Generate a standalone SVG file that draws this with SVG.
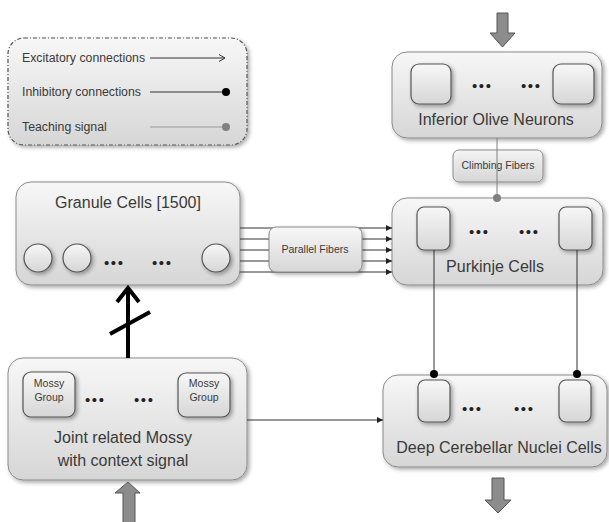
<svg xmlns="http://www.w3.org/2000/svg" width="609" height="522" viewBox="0 0 609 522">
<defs>
<linearGradient id="g" x1="0" y1="0" x2="0" y2="1">
<stop offset="0" stop-color="#f7f7f7"/>
<stop offset="1" stop-color="#d6d6d6"/>
</linearGradient>
<filter id="sh" x="-10%" y="-10%" width="130%" height="130%">
<feGaussianBlur in="SourceAlpha" stdDeviation="2"/>
<feOffset dx="1.5" dy="2" result="b"/>
<feComponentTransfer><feFuncA type="linear" slope="0.35"/></feComponentTransfer>
<feMerge><feMergeNode/><feMergeNode in="SourceGraphic"/></feMerge>
</filter>
<marker id="ah" viewBox="0 0 6 6" refX="6" refY="3" markerWidth="6" markerHeight="6" markerUnits="userSpaceOnUse" orient="auto">
<path d="M0,0 L6,3 L0,6 z" fill="#222"/>
</marker>
<marker id="dotB" viewBox="0 0 8 8" refX="4" refY="4" markerWidth="8" markerHeight="8" markerUnits="userSpaceOnUse">
<circle cx="4" cy="4" r="4" fill="#000"/>
</marker>
<marker id="dotG" viewBox="0 0 8 8" refX="4" refY="4" markerWidth="8" markerHeight="8" markerUnits="userSpaceOnUse">
<circle cx="4" cy="4" r="4" fill="#808080"/>
</marker>
</defs>
<style>
.box{fill:url(#g);stroke:#8a8a8a;stroke-width:1;filter:url(#sh)}
.in{fill:url(#g);stroke:#555;stroke-width:1.2;filter:url(#sh)}
.t{font-family:"Liberation Sans",Arial,sans-serif;fill:#3a3a3a;text-anchor:middle}
.big{font-size:16px}
.sm{font-size:10.5px}
.lg{font-family:"Liberation Sans",Arial,sans-serif;fill:#3a3a3a;font-size:12.3px}
.dots{font-family:"Liberation Sans",Arial,sans-serif;fill:#222;font-size:15px;letter-spacing:1.6px}
.ln{stroke:#333;stroke-width:1;fill:none}
.blk{fill:#8c8c8c;stroke:#555;stroke-width:1}
</style>

<g id="legend">
<rect x="8" y="38" width="239" height="107" rx="16" fill="url(#g)" stroke="#555" stroke-width="1.2" stroke-dasharray="4 2 1 2" filter="url(#sh)"/>
<text class="lg" x="22" y="62">Excitatory connections</text>
<text class="lg" x="22" y="96">Inhibitory connections</text>
<text class="lg" x="22" y="131">Teaching signal</text>
<line x1="150" y1="58" x2="225" y2="58" stroke="#333" stroke-width="1"/>
<path d="M219,54.5 L225,58 L219,61.5" fill="none" stroke="#333" stroke-width="1"/>
<line x1="150" y1="92" x2="226" y2="92" stroke="#333" stroke-width="1" marker-end="url(#dotB)"/>
<line x1="150" y1="127" x2="226" y2="127" stroke="#999" stroke-width="1" marker-end="url(#dotG)"/>
</g>

<g id="inferior-olive">
<rect class="box" x="392" y="52" width="210" height="86" rx="15"/>
<rect class="in" x="411" y="64" width="40" height="40" rx="8"/>
<rect class="in" x="553" y="64" width="41" height="40" rx="8"/>
<text class="dots" x="472" y="91">•••</text>
<text class="dots" x="521" y="91">•••</text>
<text class="t big" x="496" y="125">Inferior Olive Neurons</text>
</g>

<g id="climbing-fibers">
<rect class="box" x="453" y="150" width="90" height="32" rx="6" fill-opacity="0.85"/>
<text class="t sm" x="498" y="169">Climbing Fibers</text>
</g>

<g id="granule-cells">
<rect class="box" x="16" y="182" width="224" height="103" rx="15"/>
<text class="t big" x="128" y="208">Granule Cells [1500]</text>
<circle class="in" cx="38" cy="258" r="14"/>
<circle class="in" cx="77" cy="258" r="14"/>
<circle class="in" cx="216" cy="258" r="14"/>
<text class="dots" x="104" y="268">•••</text>
<text class="dots" x="152" y="268">•••</text>
</g>

<g id="purkinje-cells">
<rect class="box" x="392" y="198" width="211" height="87" rx="15"/>
<rect class="in" x="417" y="207" width="33" height="43" rx="7"/>
<rect class="in" x="559" y="207" width="33" height="43" rx="7"/>
<text class="dots" x="469" y="237">•••</text>
<text class="dots" x="519" y="237">•••</text>
<text class="t big" x="495" y="272">Purkinje Cells</text>
</g>

<g id="mossy">
<rect class="box" x="8" y="358" width="239" height="122" rx="15"/>
<rect class="in" x="23" y="372" width="52" height="45" rx="8"/>
<rect class="in" x="178" y="373" width="52" height="44" rx="8"/>
<text class="t sm" x="49" y="387">Mossy</text>
<text class="t sm" x="49" y="401">Group</text>
<text class="t sm" x="204" y="387">Mossy</text>
<text class="t sm" x="204" y="401">Group</text>
<text class="dots" x="85" y="405">•••</text>
<text class="dots" x="134" y="405">•••</text>
<text class="t big" x="123" y="443">Joint related Mossy</text>
<text class="t big" x="123" y="466">with context signal</text>
</g>

<g id="deep-cerebellar-nuclei">
<rect class="box" x="383" y="375" width="224" height="92" rx="15"/>
<rect class="in" x="418" y="380" width="32" height="42" rx="7"/>
<rect class="in" x="559" y="380" width="32" height="42" rx="7"/>
<text class="dots" x="462" y="414">•••</text>
<text class="dots" x="514" y="414">•••</text>
<text class="t big" x="499" y="453">Deep Cerebellar Nuclei Cells</text>
</g>

<g id="connectors">
<line x1="240" y1="228" x2="392" y2="228" class="ln" marker-end="url(#ah)"/>
<line x1="240" y1="239" x2="392" y2="239" class="ln" marker-end="url(#ah)"/>
<line x1="240" y1="250" x2="392" y2="250" class="ln" marker-end="url(#ah)"/>
<line x1="240" y1="261" x2="392" y2="261" class="ln" marker-end="url(#ah)"/>
<line x1="240" y1="272" x2="392" y2="272" class="ln" marker-end="url(#ah)"/>
<line x1="497" y1="138" x2="497" y2="198" stroke="#808080" stroke-width="1" marker-end="url(#dotG)"/>
<line x1="434" y1="250" x2="434" y2="374" class="ln" marker-end="url(#dotB)"/>
<line x1="577" y1="250" x2="577" y2="374" class="ln" marker-end="url(#dotB)"/>
<line x1="247" y1="420" x2="383" y2="420" class="ln" marker-end="url(#ah)"/>
<line x1="128" y1="358" x2="128" y2="288" stroke="#000" stroke-width="4"/>
<path d="M117,302 L128,288 L139,302" fill="none" stroke="#000" stroke-width="4"/>
<line x1="110" y1="334" x2="150" y2="312" stroke="#000" stroke-width="4"/>
<path class="blk" d="M497,13 L508,13 L508,33 L515,33 L502.5,47 L490,33 L497,33 Z"/>
<path class="blk" d="M123,522 L123,493 L115,493 L128,482 L140,493 L135,493 L135,522"/>
<path class="blk" d="M492,478 L504,478 L504,500 L511,500 L498,513 L485,500 L492,500 Z"/>
</g>

<g id="parallel-fibers">
<rect class="box" x="269" y="227" width="93" height="45" rx="7"/>
<text class="t sm" x="315" y="253">Parallel Fibers</text>
</g>
</svg>
